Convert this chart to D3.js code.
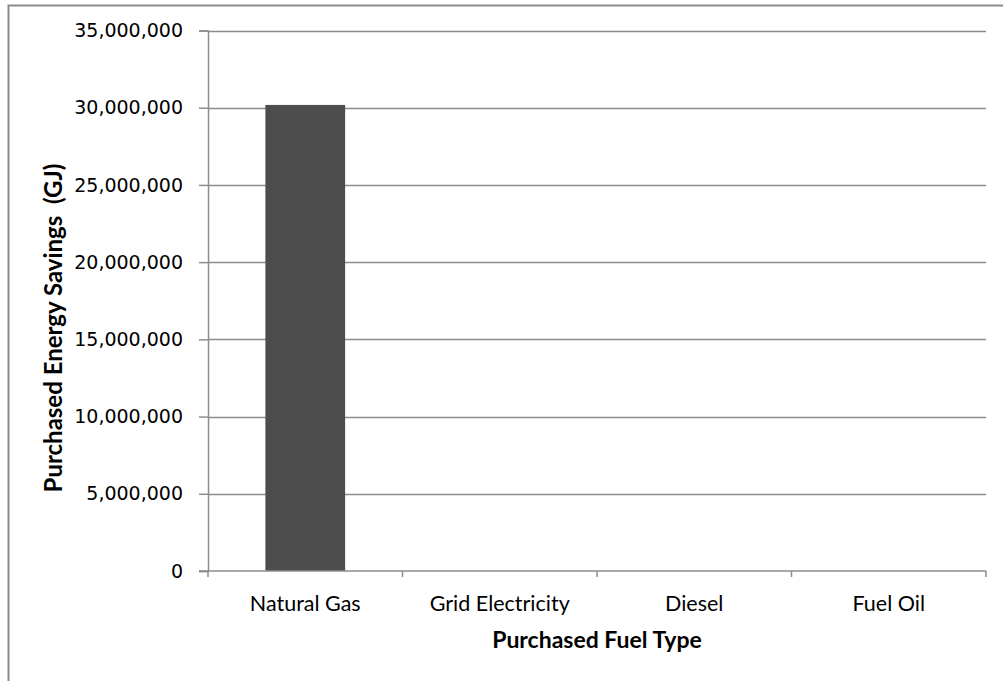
<!DOCTYPE html>
<html>
<head>
<meta charset="utf-8">
<script src="https://cdn.jsdelivr.net/npm/d3@7/dist/d3.min.js"></script>
<style>
  html, body { margin: 0; padding: 0; background: #fff; }
  svg { display: block; }
</style>
</head>
<body>
<svg id="chart" width="1003" height="681"></svg>
<script>
// Fuel categories and savings per fuel (GJ)
const fuelTypes = ["Natural Gas", "Grid Electricity", "Diesel", "Fuel Oil"];
const savingsGJ = [30180000, 0, 0, 0];
const yTickValues = [0, 5000000, 10000000, 15000000, 20000000, 25000000, 30000000, 35000000];

const svg = d3.select("#chart");
const W = 1003, H = 681;
const plot = { left: 208, right: 986, top: 30.5, bottom: 571 };

// outer chart frame (extends past the right/bottom edges)
svg.append("rect")
  .attr("x", 8.5).attr("y", 5.5)
  .attr("width", W + 10).attr("height", H + 10)
  .attr("fill", "#fff")
  .attr("stroke", "#8c8c8c").attr("stroke-width", 2);

const x = d3.scaleBand()
  .domain(fuelTypes)
  .range([plot.left, plot.right])
  .paddingInner(0.59).paddingOuter(0.295);

const y = d3.scaleLinear()
  .domain([0, 35000000])
  .range([plot.bottom, plot.top]);

// horizontal gridlines
svg.append("g")
  .selectAll("line")
  .data(yTickValues.filter(v => v > 0))
  .join("line")
  .attr("x1", plot.left).attr("x2", plot.right)
  .attr("y1", d => Math.round(y(d)) + 0.5).attr("y2", d => Math.round(y(d)) + 0.5)
  .attr("stroke", "#8c8c8c").attr("stroke-width", 1.5);

// bars
svg.append("g")
  .selectAll("rect")
  .data(fuelTypes.map((f, i) => ({ f, v: savingsGJ[i] })))
  .join("rect")
  .attr("x", d => x(d.f))
  .attr("width", x.bandwidth())
  .attr("y", d => y(d.v))
  .attr("height", d => y(0) - y(d.v))
  .attr("fill", "#4d4d4d");

// y axis
const fmt = d3.format(",");
const yAxis = svg.append("g")
  .attr("transform", `translate(${plot.left},0)`)
  .call(d3.axisLeft(y).tickValues(yTickValues).tickFormat(fmt).tickSize(9).tickPadding(16));
yAxis.select(".domain").attr("stroke", "#8c8c8c").attr("stroke-width", 1.5);
yAxis.selectAll(".tick line").attr("stroke", "#8c8c8c").attr("stroke-width", 1.5);
yAxis.selectAll(".tick text")
  .attr("fill", "#000")
  .style("font-family", "'DejaVu Sans', sans-serif")
  .style("font-size", "19px");

// x axis with tick marks at category boundaries
const xAxisG = svg.append("g").attr("transform", `translate(0,${plot.bottom})`);
xAxisG.append("line")
  .attr("x1", plot.left - 9).attr("x2", plot.right)
  .attr("y1", 0).attr("y2", 0)
  .attr("stroke", "#8c8c8c").attr("stroke-width", 1.5);
const step = x.step();
const boundaries = d3.range(fuelTypes.length + 1).map(i => plot.left + i * step);
xAxisG.selectAll("line.b")
  .data(boundaries)
  .join("line")
  .attr("class", "b")
  .attr("x1", d => d).attr("x2", d => d)
  .attr("y1", 0).attr("y2", 6)
  .attr("stroke", "#8c8c8c").attr("stroke-width", 1.5);
xAxisG.selectAll("text")
  .data(fuelTypes)
  .join("text")
  .attr("x", d => x(d) + x.bandwidth() / 2)
  .attr("y", 40)
  .attr("text-anchor", "middle")
  .style("font-family", "Lato, sans-serif")
  .style("font-size", "21.5px")
  .attr("fill", "#000")
  .text(d => d);

// axis titles
svg.append("text")
  .attr("x", (plot.left + plot.right) / 2)
  .attr("y", 648)
  .attr("text-anchor", "middle")
  .style("font-family", "Lato, sans-serif")
  .style("font-weight", "bold")
  .style("font-size", "23px")
  .text("Purchased Fuel Type");

svg.append("text")
  .attr("transform", "translate(62,328) rotate(-90)")
  .attr("text-anchor", "middle")
  .style("font-family", "Lato, sans-serif")
  .style("font-weight", "bold")
  .style("font-size", "24px")
  .style("white-space", "pre")
  .text("Purchased Energy Savings  (GJ)");
</script>
</body>
</html>
